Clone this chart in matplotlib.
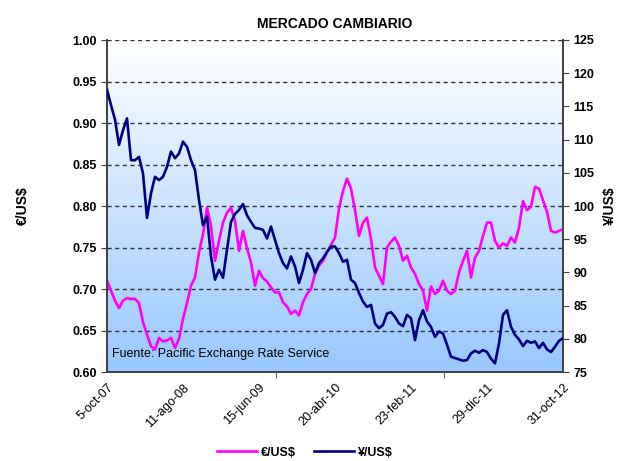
import matplotlib
matplotlib.use("Agg")
import matplotlib.pyplot as plt
from matplotlib.colors import LinearSegmentedColormap
import numpy as np

# trading-day axis: 5-oct-07 .. 31-oct-12, labels every 220 trading days
T_END = 1320
XTICKS = [0, 220, 440, 660, 880, 1100, 1320]
XLABELS = ["5-oct-07", "11-ago-08", "15-jun-09", "20-abr-10",
           "23-feb-11", "29-dic-11", "31-oct-12"]

# euro per dollar (evenly spaced samples)
EUR = [0.710, 0.698, 0.686, 0.677, 0.686, 0.689, 0.688, 0.688, 0.683, 0.660,
       0.645, 0.631, 0.627, 0.641, 0.637, 0.638, 0.641, 0.629, 0.640, 0.664,
       0.683, 0.704, 0.714, 0.744, 0.766, 0.798, 0.776, 0.734, 0.758, 0.780,
       0.792, 0.798, 0.782, 0.746, 0.770, 0.749, 0.732, 0.704, 0.722, 0.713,
       0.709, 0.702, 0.696, 0.696, 0.684, 0.679, 0.670, 0.674, 0.668, 0.684,
       0.694, 0.700, 0.718, 0.728, 0.734, 0.744, 0.753, 0.762, 0.797, 0.818,
       0.833, 0.821, 0.795, 0.764, 0.780, 0.786, 0.760, 0.726, 0.716, 0.706,
       0.750, 0.757, 0.762, 0.752, 0.734, 0.740, 0.726, 0.718, 0.706, 0.698,
       0.674, 0.703, 0.694, 0.698, 0.710, 0.698, 0.694, 0.698, 0.720, 0.734,
       0.746, 0.714, 0.738, 0.746, 0.764, 0.780, 0.780, 0.758, 0.750, 0.755,
       0.752, 0.762, 0.756, 0.774, 0.806, 0.795, 0.799, 0.823, 0.821, 0.807,
       0.793, 0.770, 0.768, 0.770, 0.772]

# yen per dollar
JPY = [117.5, 115.2, 113.0, 109.2, 111.4, 113.2, 106.9, 106.9, 107.4, 104.9,
       98.2, 101.9, 104.4, 103.9, 104.4, 105.9, 108.2, 107.2, 107.9, 109.7,
       108.9, 106.9, 105.4, 100.9, 97.1, 98.4, 92.4, 88.9, 90.4, 89.2,
       93.4, 97.6, 98.8, 99.4, 100.3, 98.6, 97.6, 96.7, 96.6, 96.4,
       95.1, 96.9, 94.9, 92.9, 91.4, 90.6, 92.4, 90.9, 88.4, 90.4,
       92.9, 91.9, 89.9, 91.4, 92.1, 93.1, 93.9, 93.9, 92.9, 91.6,
       91.9, 88.9, 88.4, 86.9, 85.6, 84.8, 85.1, 82.3, 81.6, 82.1,
       83.8, 84.0, 83.3, 82.3, 81.9, 83.6, 83.1, 79.8, 82.8, 84.3,
       82.6, 81.8, 80.3, 81.1, 80.8, 79.1, 77.3, 77.1, 76.9, 76.7,
       76.8, 77.8, 78.2, 77.9, 78.3, 78.0, 77.0, 76.3, 79.3, 83.6,
       84.3, 81.8, 80.6, 79.9, 78.9, 79.7, 79.4, 79.6, 78.6, 79.4,
       78.4, 78.0, 78.8, 79.7, 80.1]

EUR_TICKS = [0.60, 0.65, 0.70, 0.75, 0.80, 0.85, 0.90, 0.95, 1.00]
JPY_TICKS = [75, 80, 85, 90, 95, 100, 105, 110, 115, 120, 125]

C_EUR = "#FF00FF"
C_JPY = "#000080"
SPINE = "#404040"

plt.rcParams["font.family"] = ["Liberation Sans", "DejaVu Sans"]

fig = plt.figure(figsize=(6.22, 4.61), dpi=100)
ax = fig.add_axes([107 / 622, 1 - 372 / 461, 456 / 622, 332 / 461])

x = np.linspace(0, T_END, len(EUR))

# white-to-blue plot area
grad = LinearSegmentedColormap.from_list("bg", ["#98C8FF", "#FFFFFF"])
ax.imshow(np.linspace(0, 1, 256).reshape(-1, 1), cmap=grad, origin="lower",
          aspect="auto", extent=[0, 1, 0, 1], transform=ax.transAxes, zorder=0)

for v in EUR_TICKS[1:]:
    ax.axhline(v, color="#303030", lw=1.0, ls=(0, (3, 2.5)), zorder=1)

ax.plot(x, EUR, color=C_EUR, lw=1.9, zorder=3, label="€/US$")
ax.set_xlim(0, T_END)
ax.set_ylim(0.60, 1.00)
ax.set_yticks(EUR_TICKS)
ax.set_yticklabels([f"{v:.2f}" for v in EUR_TICKS], fontweight="bold", fontsize=9)
ax.set_xticks(XTICKS)
ax.set_xticklabels(XLABELS, rotation=45, ha="right", rotation_mode="anchor",
                   fontsize=9)
ax.tick_params(axis="x", length=0, pad=7)
ax.set_xticks([490, 975], minor=True)
ax.tick_params(axis="x", which="minor", length=4, color=SPINE, direction="out")
ax.tick_params(axis="y", length=4, color=SPINE, direction="out")
ax.set_ylabel("€/US$", fontweight="bold", fontsize=10, labelpad=30)

ax2 = ax.twinx()
ax2.plot(x, JPY, color=C_JPY, lw=1.9, zorder=3, label="¥/US$")
ax2.set_ylim(75, 125)
ax2.set_yticks(JPY_TICKS)
ax2.set_yticklabels([str(v) for v in JPY_TICKS], fontweight="bold", fontsize=9)
ax2.tick_params(axis="y", length=4, color=SPINE, direction="out")
ax2.set_ylabel("¥/US$", fontweight="bold", fontsize=10, rotation=90, labelpad=6)

for a in (ax, ax2):
    a.spines["top"].set_visible(False)
    for s in ("left", "right", "bottom"):
        a.spines[s].set_color(SPINE)
        a.spines[s].set_linewidth(1.2)

ax.text(0.012, 0.035, "Fuente: Pacific Exchange Rate Service", transform=ax.transAxes,
        fontsize=9, ha="left", va="bottom", zorder=5)

ax.set_title("MERCADO CAMBIARIO", fontsize=10, fontweight="bold", pad=9)

h1, l1 = ax.get_legend_handles_labels()
h2, l2 = ax2.get_legend_handles_labels()
leg = fig.legend(h1 + h2, l1 + l2, loc="center", bbox_to_anchor=(0.49, 0.018),
                 ncol=2, frameon=False, handlelength=3.2, columnspacing=1.5,
                 handletextpad=0.3, prop={"weight": "bold", "size": 9})

fig.savefig("out.png", dpi=100)
